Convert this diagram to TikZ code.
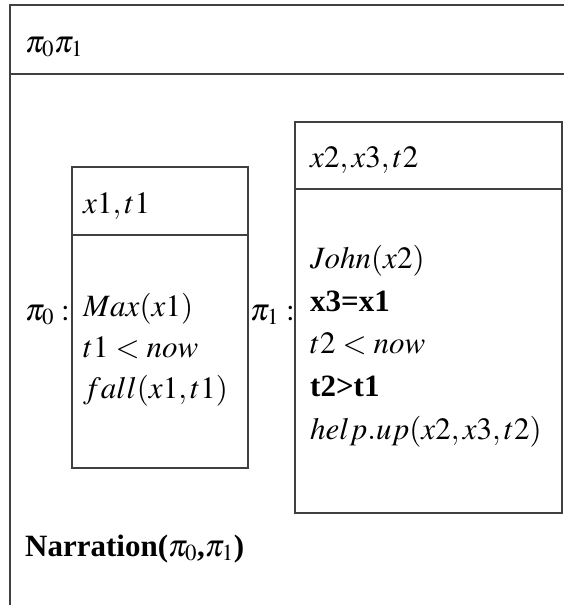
\documentclass[tikz,border=0pt]{standalone}
\usepackage{mathptmx}
\usepackage{fontspec}
\setmainfont{Liberation Serif}

\begin{document}
\begin{tikzpicture}[x=1pt, y=-1pt, font=\fontsize{31}{36}\selectfont,
    frame/.style={draw=black!75, line width=1.3pt},
    cond/.style={anchor=base west, inner sep=0pt}]

    \useasboundingbox (0,0) rectangle (564,605);

    % outer box
    \draw[frame] (564,5) -- (10,5) -- (10,605);
    \draw[frame] (10,74) -- (564,74);
    \node[cond] (top) at (25,52) {$\pi_0\pi_1$};

    % box for pi_0
    \draw[frame] (72,167) rectangle (248,468);
    \draw[frame] (72,235) -- (248,235);
    \node[cond] (lab0) at (25,320) {$\pi_0:$};
    \node[cond] (ref0) at (83,213) {$x1,t1$};
    \node[cond] (c01) at (83,316) {$Max(x1)$};
    \node[cond] (c02) at (83,357) {$t1<now$};
    \node[cond] (c03) at (83,398) {$fall(x1,t1)$};

    % box for pi_1
    \draw[frame] (295,122) rectangle (562,513);
    \draw[frame] (295,189) -- (562,189);
    \node[cond] (lab1) at (250,320) {$\pi_1:$};
    \node[cond] (ref1) at (310,167) {$x2,x3,t2$};
    \node[cond] (c11) at (310,268) {$John(x2)$};
    \node[cond] (c12) at (310,311) {\textbf{x3=x1}};
    \node[cond] (c13) at (310,353) {$t2<now$};
    \node[cond] (c14) at (310,396) {\textbf{t2>t1}};
    \node[cond] (c15) at (310,439) {$help.up(x2,x3,t2)$};

    \node[cond] (rel) at (25,556) {\textbf{Narration($\pi_0$,$\pi_1$)}};

\end{tikzpicture}
\end{document}
